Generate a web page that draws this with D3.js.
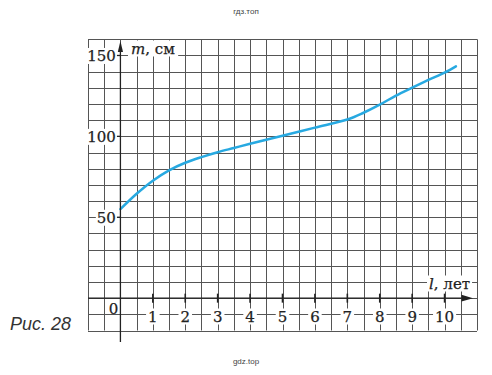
<!DOCTYPE html>
<html>
<head>
<meta charset="utf-8">
<script src="https://cdn.jsdelivr.net/npm/d3@7"></script>
<style>
  body { margin: 0; background: #fff; }
  svg { display: block; }
  .num { font-family: "DejaVu Serif", serif; font-size: 15px; fill: #222; stroke: #222; stroke-width: 0.25; }
  .wm { font-family: "Liberation Sans", Arial, sans-serif; font-size: 8px; fill: #444; }
</style>
</head>
<body>
<div id="chart"></div>
<script>
// growth curve
const years = [0, 0.5, 1, 1.5, 2, 2.5, 3, 3.5, 4, 5, 6, 7, 7.5, 8, 8.5, 9, 9.5, 10, 10.35];
const heights = [55, 64.5, 72.6, 79, 83.7, 87.2, 90.2, 92.8, 95.4, 100.4, 105.4, 110.4, 114.6, 119.6, 125.2, 130.1, 134.9, 139.4, 143.3];

const xTickLabels = [1, 2, 3, 4, 5, 6, 7, 8, 9, 10];
const yTickLabels = [50, 100, 150];

const width = 492;
const height = 375;

const svg = d3.select('#chart').append('svg')
  .attr('width', width)
  .attr('height', height);

const x = d3.scaleLinear().domain([-1, 11]).range([88, 477]);
const y = d3.scaleLinear().domain([-20, 160]).range([330.5, 39.3]);

// grid
const grid = svg.append('g').attr('stroke', '#555').attr('stroke-width', 1);
grid.selectAll('line.v')
  .data(x.ticks(24))
  .enter().append('line')
  .attr('x1', d => Math.round(x(d)) + 0.5)
  .attr('x2', d => Math.round(x(d)) + 0.5)
  .attr('y1', y(160))
  .attr('y2', y(-20));
grid.selectAll('line.h')
  .data(y.ticks(18))
  .enter().append('line')
  .attr('y1', d => Math.round(y(d)) + 0.5)
  .attr('y2', d => Math.round(y(d)) + 0.5)
  .attr('x1', x(-1))
  .attr('x2', x(11));

// text with a white box behind it, breaks the grid
function boxed(g, pad) {
  g.each(function() {
    const b = this.getBBox();
    d3.select(this.parentNode).insert('rect', () => this)
      .attr('x', b.x - pad).attr('y', b.y + 1)
      .attr('width', b.width + 2 * pad).attr('height', b.height - 2)
      .attr('fill', '#fff');
  });
}

// curve
const line = d3.line()
  .x((d, i) => x(years[i]))
  .y(d => y(d))
  .curve(d3.curveCatmullRom.alpha(0.5));

svg.append('path')
  .datum(heights)
  .attr('d', line)
  .attr('fill', 'none')
  .attr('stroke', '#27a9e1')
  .attr('stroke-width', 2.5)
  .attr('stroke-linecap', 'round');

// axes
const axes = svg.append('g').attr('stroke', '#222');
axes.append('line')
  .attr('x1', x(0)).attr('x2', x(0))
  .attr('y1', 50).attr('y2', 342)
  .attr('stroke-width', 1.3);
axes.append('line')
  .attr('x1', x(-1)).attr('x2', 464)
  .attr('y1', y(0)).attr('y2', y(0))
  .attr('stroke-width', 1.3);
svg.append('path')
  .attr('d', `M${x(0)},41 L${x(0) - 2.6},52 L${x(0) + 2.6},52 Z`)
  .attr('fill', '#222');
svg.append('path')
  .attr('d', `M473,${y(0)} L461.5,${y(0) - 3.3} L461.5,${y(0) + 3.3} Z`)
  .attr('fill', '#222');

// x ticks
axes.selectAll('line.xt')
  .data(xTickLabels)
  .enter().append('line')
  .attr('x1', d => x(d)).attr('x2', d => x(d))
  .attr('y1', y(0) - 4.5).attr('y2', y(0) + 4.5)
  .attr('stroke-width', 1.6);

// y ticks
axes.selectAll('line.yt')
  .data(yTickLabels)
  .enter().append('line')
  .attr('x1', x(0) - 4).attr('x2', x(0))
  .attr('y1', d => y(d)).attr('y2', d => y(d))
  .attr('stroke-width', 1.3);

// labels
const xl = svg.append('g').selectAll('g')
  .data(xTickLabels)
  .enter().append('g');
xl.append('text')
  .attr('class', 'num')
  .attr('x', d => x(d))
  .attr('y', 321.5)
  .attr('text-anchor', 'middle')
  .text(d => d)
  .call(boxed, 2);

const yl = svg.append('g').selectAll('g')
  .data(yTickLabels)
  .enter().append('g');
yl.append('text')
  .attr('class', 'num')
  .attr('x', x(0) - 4.5)
  .attr('y', d => y(d) + 5.5)
  .attr('text-anchor', 'end')
  .text(d => d)
  .call(boxed, 1);

const zero = svg.append('g');
zero.append('text')
  .attr('class', 'num')
  .attr('x', 113.5)
  .attr('y', 313.5)
  .attr('text-anchor', 'middle')
  .text('0');

// axis names
const mg = svg.append('g');
const mt = mg.append('text')
  .attr('class', 'num')
  .attr('x', 131)
  .attr('y', 53.5);
mt.append('tspan').attr('font-style', 'italic').text('m');
mt.append('tspan').text(', см');
mt.call(boxed, 3);

const lg = svg.append('g');
const lt = lg.append('text')
  .attr('class', 'num')
  .attr('x', 429)
  .attr('y', 288.5);
lt.append('tspan').attr('font-style', 'italic').text('l');
lt.append('tspan').text(', лет');
lt.call(boxed, 2);

// caption and watermarks
svg.append('text')
  .attr('x', 10)
  .attr('y', 329.5)
  .attr('font-family', '"Liberation Sans", Arial, sans-serif')
  .attr('font-style', 'italic')
  .attr('font-size', 18)
  .attr('fill', '#333')
  .text('Рис. 28');

svg.append('text')
  .attr('class', 'wm')
  .attr('x', 246)
  .attr('y', 14)
  .attr('text-anchor', 'middle')
  .text('гдз.топ');

svg.append('text')
  .attr('class', 'wm')
  .attr('x', 246)
  .attr('y', 364)
  .attr('text-anchor', 'middle')
  .text('gdz.top');
</script>
</body>
</html>
